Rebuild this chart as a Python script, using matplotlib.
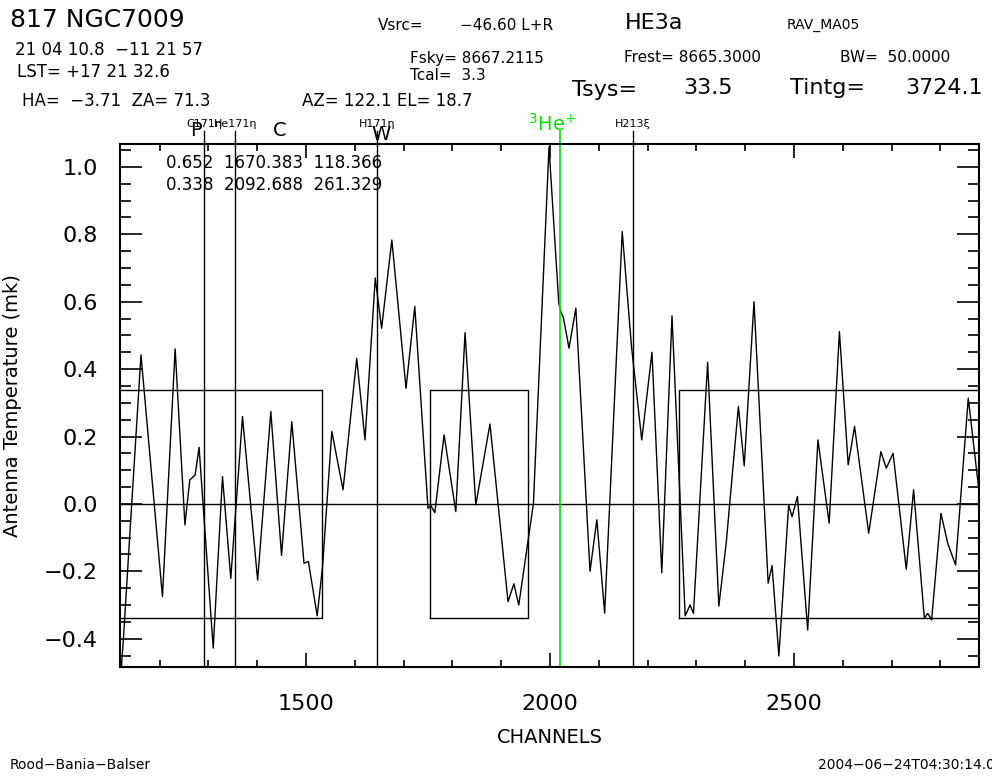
import numpy as np
import matplotlib
matplotlib.use("Agg")
import matplotlib.pyplot as plt
from matplotlib.ticker import MultipleLocator

# spectrum: channel, antenna temperature (mK) at peaks, troughs and shoulders
channel = [1119, 1122, 1126, 1143, 1162, 1206, 1232, 1252, 1262, 1273, 1281,
           1310, 1329, 1346, 1370, 1401, 1428, 1450, 1471, 1496, 1505, 1523,
           1534, 1553, 1576, 1604, 1621, 1642, 1655, 1676, 1705, 1723, 1750,
           1756, 1764, 1783, 1807, 1826, 1848, 1877, 1914, 1926, 1936, 1966,
           1998, 2018, 2023, 2027, 2039, 2053, 2082, 2096, 2112, 2148, 2167,
           2188, 2209, 2229, 2250, 2277, 2287, 2294, 2323, 2346, 2361, 2386,
           2398, 2418, 2447, 2455, 2469, 2489, 2496, 2507, 2528, 2549, 2572,
           2593, 2611, 2624, 2653, 2678, 2689, 2703, 2730, 2745, 2767, 2774,
           2782, 2801, 2815, 2831, 2857, 2878]
temp = [-0.47, -0.48, -0.40, 0.00, 0.442, -0.275, 0.46, -0.062, 0.071, 0.086, 0.168,
        -0.428, 0.081, -0.221, 0.259, -0.226, 0.274, -0.153, 0.244, -0.176, -0.171, -0.332,
        -0.186, 0.215, 0.042, 0.432, 0.19, 0.67, 0.521, 0.783, 0.343, 0.586, -0.013,
        -0.005, -0.026, 0.205, -0.023, 0.508, -0.003, 0.237, -0.29, -0.237, -0.30, 0.00,
        1.059, 0.596, 0.566, 0.556, 0.462, 0.581, -0.20, -0.047, -0.324, 0.808, 0.467,
        0.19, 0.45, -0.204, 0.558, -0.332, -0.30, -0.325, 0.42, -0.303, -0.117, 0.289,
        0.113, 0.60, -0.235, -0.183, -0.451, -0.003, -0.038, 0.022, -0.374, 0.19, -0.057,
        0.511, 0.116, 0.23, -0.087, 0.155, 0.106, 0.15, -0.194, 0.042, -0.339, -0.325,
        -0.344, -0.028, -0.117, -0.181, 0.314, 0.05]

# baseline regions and rms level
regions = [(1100, 1533), (1754, 1955), (2264, 2900)]
rms = 0.338

# line markers
line_chan = [1292, 1355, 1645, 2170]
line_names = ["C171η", "He171η", "H171η", "H213ξ"]
he3_chan = 2020

W, H = 992, 778
fig = plt.figure(figsize=(W / 100, H / 100), dpi=100)
ax = fig.add_axes([120 / W, 1 - 666.7 / H, (979 - 120) / W, (666.7 - 144.3) / H])

ax.plot(channel, temp, color="black", lw=1.0)
ax.axhline(0, color="black", lw=1.0)
for lo, hi in regions:
    ax.plot([lo, lo, hi, hi, lo], [-rms, rms, rms, -rms, -rms], color="black", lw=1.0)

ax.set_xlim(1119, 2879)
ax.set_ylim(-0.483, 1.067)

top = 1.107
for c, name in zip(line_chan, line_names):
    ax.plot([c, c], [-0.483, top], color="black", lw=1.0, clip_on=False)
    ax.text(c, top + 0.005, name, fontsize=8, ha="center", va="bottom")
ax.plot([he3_chan, he3_chan], [-0.483, top], color="#00e000", lw=1.2, clip_on=False)
ax.text(he3_chan - 15, 1.095, r"$^{3}$He$^{+}$", fontsize=14, color="#00e000",
        ha="center", va="bottom")

for s in ax.spines.values():
    s.set_linewidth(1.5)
ax.xaxis.set_major_locator(MultipleLocator(500))
ax.xaxis.set_minor_locator(MultipleLocator(100))
ax.yaxis.set_major_locator(MultipleLocator(0.2))
ax.yaxis.set_minor_locator(MultipleLocator(0.05))
ax.tick_params(axis="both", which="both", direction="in", top=True, right=True, width=1.2)
ax.tick_params(axis="x", which="major", length=10, labelsize=16, pad=20)
ax.tick_params(axis="x", which="minor", length=5)
ax.tick_params(axis="y", which="major", length=16, labelsize=16, pad=16)
ax.tick_params(axis="y", which="minor", length=8)
ax.yaxis.set_major_formatter(plt.FuncFormatter(lambda v, p: f"{v:.1f}".replace("-", "\u2212")))
ax.set_xlabel("CHANNELS", fontsize=14, labelpad=10)
ax.set_ylabel("Antenna Temperature (mk)", fontsize=14, labelpad=16)

ax.text(0.053, 0.955, "0.652  1670.383  118.366", transform=ax.transAxes, fontsize=12)
ax.text(0.053, 0.912, "0.338  2092.688  261.329", transform=ax.transAxes, fontsize=12)


def put(x, y, s, size=12, **kw):
    fig.text(x / W, 1 - y / H, s, fontsize=size, va="center", **kw)


put(10, 20, "817 NGC7009", 18)
put(15, 50, "21 04 10.8  \u221211 21 57", 12)
put(17, 72, "LST= +17 21 32.6", 12)
put(22, 101, "HA=  \u22123.71  ZA= 71.3", 12)
put(302, 101, "AZ= 122.1 EL= 18.7", 12)
put(378, 26, "Vsrc=", 11)
put(460, 26, "\u221246.60 L+R", 11)
put(625, 23, "HE3a", 16)
put(787, 25, "RAV_MA05", 10)
put(410, 58, "Fsky= 8667.2115", 11)
put(624, 58, "Frest= 8665.3000", 11)
put(840, 58, "BW=  50.0000", 11)
put(410, 75, "Tcal=  3.3", 11)
put(572, 90, "Tsys=", 16)
put(683, 88, "33.5", 16)
put(790, 88, "Tintg=", 16)
put(905, 88, "3724.1", 16)
put(190, 130, "P", 14)
put(273, 130, "C", 14)
put(371, 135, "W", 14)
put(10, 765, "Rood\u2212Bania\u2212Balser", 10)
put(818, 765, "2004\u221206\u221224T04:30:14.00", 10)

fig.savefig("out.png", dpi=100)
